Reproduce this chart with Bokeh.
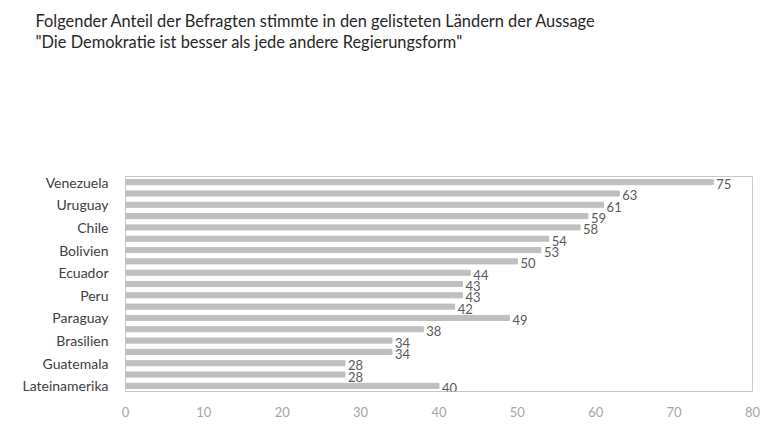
from bokeh.plotting import figure
from bokeh.models import Range1d, FixedTicker, Title, ColumnDataSource
from bokeh.core.properties import value
from bokeh.embed import file_html
from bokeh.resources import INLINE

title_lines = [
    "Folgender Anteil der Befragten stimmte in den gelisteten Ländern der Aussage",
    "\"Die Demokratie ist besser als jede andere Regierungsform\"",
]
shown_labels = ["Venezuela", "Uruguay", "Chile", "Bolivien", "Ecuador", "Peru",
                "Paraguay", "Brasilien", "Guatemala", "Lateinamerika"]
values = [75, 63, 61, 59, 58, 54, 53, 50, 44, 43, 43, 42, 49, 38, 34, 34, 28, 28, 40]
x_ticks = [0, 10, 20, 30, 40, 50, 60, 70, 80]

positions = list(range(len(values)))
label_positions = positions[::2]

W, H = 760, 421
BL, BB, BT = 125, 30, 176
FONT = "Lato"
TFS = "16.4px"
p = figure(width=W, height=H, output_backend="svg", toolbar_location=None,
           x_range=Range1d(0, 80), y_range=Range1d(len(values) - 0.5, -0.5),
           min_border_left=BL, min_border_right=8, min_border_top=BT, min_border_bottom=BB)
p.background_fill_color = "white"
p.border_fill_color = "white"
p.outline_line_color = "#c8c8c8"
p.outline_line_width = 1
p.xgrid.visible = False
p.ygrid.visible = False

src = ColumnDataSource(dict(y=positions, v=values, t=[str(v) for v in values]))
p.hbar(y="y", right="v", left=0, height=0.45, source=src, color="#bfbfbf")
p.text(x="v", y="y", text="t", source=src, text_font=value(FONT),
       text_font_size="13px", text_color="#595959", text_baseline="middle",
       x_offset=3, y_offset=2)

p.xaxis.ticker = FixedTicker(ticks=x_ticks)
p.xaxis.axis_line_color = None
p.xaxis.major_tick_line_color = None
p.xaxis.minor_tick_line_color = None
p.xaxis.major_label_standoff = 9
p.xaxis.major_label_text_font = FONT
p.xaxis.major_label_text_font_size = "13px"
p.xaxis.major_label_text_color = "#a6a6a6"

p.yaxis.ticker = FixedTicker(ticks=label_positions)
p.yaxis.major_label_overrides = {pos: lab for pos, lab in zip(label_positions, shown_labels)}
p.yaxis.axis_line_color = None
p.yaxis.major_tick_line_color = None
p.yaxis.minor_tick_line_color = None
p.yaxis.major_label_standoff = 11
p.yaxis.major_label_text_font = FONT
p.yaxis.major_label_text_font_size = "14px"
p.yaxis.major_label_text_color = "#404040"

# outermost title line
p.title.text = title_lines[0]
p.title.text_font = FONT
p.title.text_font_size = TFS
p.title.text_font_style = "normal"
p.title.text_color = "#262626"
p.title.offset = 35 - BL
p.title.standoff = 0
# spacer between second title line and the plot frame (closest to frame)
p.add_layout(Title(text=" ", text_font=FONT, text_font_size=TFS, standoff=105), "above")
p.add_layout(Title(text=title_lines[1], text_font=FONT, text_font_size=TFS,
                   text_font_style="normal", text_color="#262626",
                   offset=35 - BL, standoff=0), "above")

open("out.html", "w").write(file_html(p, INLINE))
